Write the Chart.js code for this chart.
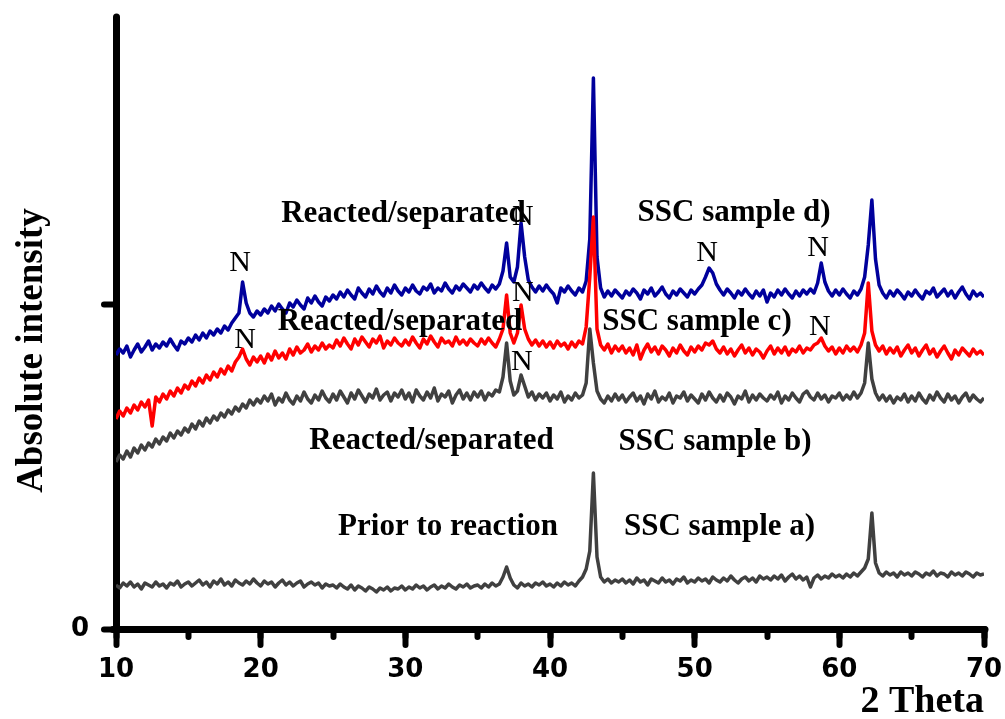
<!DOCTYPE html>
<html>
<head>
<meta charset="utf-8">
<title>XRD patterns of SSC samples</title>
<script src="https://cdn.jsdelivr.net/npm/chart.js@4.4.1/dist/chart.umd.min.js"></script>
<style>
  html, body { margin: 0; padding: 0; background: #fff; }
  #wrap { position: relative; width: 1005px; height: 719px; }
</style>
</head>
<body>
<div id="wrap"><canvas id="xrd"></canvas></div>
<script>
// Scan grid: 2-theta from 10 to 70 deg, one reading every 0.25 deg
const THETA_START = 10;
const THETA_STEP = 0.25;

// Intensities (a.u.), one row per 5 deg of 2-theta
const sampleA = [
  44, 41, 46, 43, 47, 42, 45, 40, 46, 44, 42, 47, 43, 45, 41, 46, 44, 48, 42, 45,
  47, 43, 46, 49, 44, 47, 42, 48, 45, 50, 44, 47, 43, 49, 46, 44, 48, 45, 50, 46,
  43, 48, 45, 47, 42, 46, 49, 44, 47, 43, 46, 48, 42, 45, 47, 44, 46, 41, 45, 43,
  44, 41, 45, 42, 40, 44, 39, 43, 41, 38, 42, 40, 37, 41, 39, 42, 38, 41, 40, 43,
  39, 42, 40, 44, 41, 43, 39, 42, 44, 40, 43, 41, 45, 42, 40, 44, 42, 45, 41, 43,
  44, 41, 45, 42, 46, 43, 45, 52, 62, 51, 44, 41, 46, 43, 45, 42, 46, 44, 47, 43,
  45, 42, 46, 43, 47, 44, 46, 43, 48, 52, 60, 78, 156, 72, 52, 47, 50, 46, 49, 47,
  50, 46, 49, 45, 51, 47, 49, 44, 50, 48, 46, 51, 47, 49, 45, 50, 48, 52, 46, 49,
  47, 51, 48, 50, 46, 52, 49, 47, 51, 48, 53, 49, 46, 50, 52, 48, 51, 47, 53, 50,
  52, 49, 53, 50, 54, 48, 52, 55, 50, 53, 49, 52, 42, 51, 54, 50, 53, 51, 55, 52,
  54, 51, 55, 52, 56, 53, 57, 61, 70, 116, 66, 56, 53, 57, 54, 56, 52, 57, 54, 56,
  53, 57, 55, 52, 56, 54, 58, 53, 56, 55, 52, 57, 54, 56, 53, 57, 55, 52, 56, 54,
  55
];

const sampleB = [
  167, 174, 170, 178, 172, 181, 176, 184, 179, 186, 182, 190, 185, 192, 188, 196, 191, 198, 194, 201,
  197, 205, 200, 208, 203, 211, 206, 213, 209, 216, 212, 219, 215, 222, 218, 225, 221, 229, 224, 230,
  226, 233, 228, 235, 224, 231, 227, 236, 229, 225, 233, 228, 237, 230, 226, 234, 229, 238, 231, 227,
  235, 229, 238, 232, 226, 236, 230, 239, 233, 227, 235, 231, 240, 229, 234, 237, 228, 236, 232, 239,
  230, 236, 227, 239, 233, 229, 237, 231, 241, 228, 235, 232, 238, 226, 234, 239, 230, 236, 229, 237,
  232, 238, 229, 236, 233, 239, 237, 252, 286, 248, 234, 238, 254, 243, 232, 237, 229, 235, 231, 236,
  228, 234, 230, 237, 227, 233, 229, 236, 231, 234, 246, 300, 266, 238, 230, 226, 233, 228, 235, 229,
  234, 227, 232, 236, 228, 233, 225, 235, 230, 238, 227, 232, 229, 236, 226, 233, 231, 237, 228, 234,
  230, 226, 235, 229, 237, 231, 227, 234, 228, 236, 232, 225, 233, 230, 238, 227, 234, 229, 235, 231,
  228, 234, 230, 237, 226, 233, 229, 236, 231, 227, 235, 238, 232, 229, 236, 230, 234, 227, 233, 231,
  236, 229, 234, 230, 237, 231, 236, 246, 286, 250, 236, 229, 234, 228, 233, 226, 232, 229, 235, 227,
  233, 228, 236, 230, 226, 234, 229, 237, 231, 227, 235, 229, 233, 226, 232, 236, 228, 234, 230, 227,
  231
];

const sampleC = [
  210, 218, 213, 221, 216, 224, 219, 227, 222, 229, 203, 232, 227, 235, 230, 238, 233, 241, 236, 244,
  240, 248, 243, 251, 246, 254, 249, 257, 252, 260, 255, 263, 258, 267, 272, 280, 270, 264, 272, 267,
  273, 266, 275, 269, 278, 271, 276, 270, 280, 274, 282, 276, 279, 285, 277, 283, 279, 286, 280, 284,
  281, 289, 283, 291, 285, 280, 290, 284, 292, 287, 282, 290, 286, 293, 281, 288, 284, 291, 286, 283,
  289, 284, 292, 286, 281, 290, 285, 293, 287, 282, 291, 286, 288, 283, 292, 285, 289, 284, 290, 286,
  283, 290, 285, 291, 286, 282, 290, 300, 334, 296, 286, 296, 324, 300, 290, 284, 289, 283, 288, 282,
  287, 281, 288, 283, 286, 280, 287, 282, 288, 285, 302, 352, 412, 300, 284, 279, 285, 276, 283, 278,
  283, 276, 281, 274, 284, 270, 279, 285, 277, 282, 275, 283, 279, 273, 281, 276, 284, 278, 274, 282,
  277, 283, 279, 286, 284, 288, 280, 276, 282, 275, 280, 273, 279, 284, 276, 281, 274, 280, 277, 271,
  278, 283, 275, 281, 276, 282, 274, 280, 277, 283, 276, 281, 279, 284, 286, 291, 283, 278, 282, 275,
  281, 276, 283, 278, 282, 277, 284, 296, 346, 298, 284, 278, 283, 275, 281, 276, 282, 273, 279, 284,
  276, 281, 273, 279, 284, 275, 280, 272, 278, 283, 276, 270, 279, 274, 281, 277, 273, 280, 275, 278,
  274
];

const sampleD = [
  274, 280, 276, 283, 272, 279, 285, 277, 282, 288, 279, 285, 281, 287, 283, 290, 284, 279, 288, 285,
  291, 287, 294, 289, 296, 291, 298, 294, 300, 296, 303, 299, 306, 311, 316, 347, 326, 316, 312, 318,
  314, 320, 316, 323, 318, 325, 320, 316, 326, 322, 329, 324, 320, 331, 326, 333, 327, 323, 332, 328,
  334, 330, 337, 332, 339, 334, 330, 341, 336, 332, 340, 335, 343, 337, 333, 341, 336, 344, 338, 334,
  341, 337, 344, 338, 335, 342, 339, 345, 336, 341, 338, 346, 340, 336, 343, 339, 345, 341, 337, 344,
  340, 346, 341, 337, 344, 340, 345, 358, 386, 352, 347, 362, 406, 372, 349, 342, 337, 343, 338, 344,
  339, 335, 326, 341, 337, 343, 338, 334, 341, 337, 348, 390, 551, 372, 341, 332, 338, 333, 339, 335,
  331, 338, 334, 340, 336, 330, 339, 335, 341, 333, 337, 342, 335, 331, 338, 334, 340, 336, 332, 339,
  335, 340, 344, 352, 361, 356, 345, 339, 334, 340, 336, 331, 338, 334, 340, 335, 331, 338, 333, 339,
  327, 336, 332, 339, 334, 340, 335, 331, 338, 333, 339, 335, 340, 336, 346, 366, 347, 338, 333, 339,
  334, 340, 335, 331, 338, 334, 340, 352, 384, 429, 370, 344, 336, 331, 338, 333, 339, 335, 330, 337,
  333, 339, 334, 330, 338, 335, 341, 332, 336, 340, 333, 338, 331, 337, 342, 335, 330, 338, 333, 336,
  332
];

const seriesNames = ['SSC sample a)', 'SSC sample b)', 'SSC sample c)', 'SSC sample d)'];
const seriesColors = ['#404040', '#404040', '#ff0000', '#00009c'];

const X_MIN = 10;
const X_MAX = 70;
const Y_MAX = 609;
const yTickValues = [0, 325];

// Sample captions and reflection markers, placed in (2-theta, intensity)
const captions = [
  { text: 'Reacted/separated', x: 29.87, y: 415 },
  { text: 'SSC sample d)', x: 52.72, y: 416 },
  { text: 'Reacted/separated', x: 29.63, y: 307 },
  { text: 'SSC sample c)', x: 50.16, y: 307 },
  { text: 'Reacted/separated', x: 31.81, y: 188 },
  { text: 'SSC sample b)', x: 51.41, y: 187 },
  { text: 'Prior to reaction', x: 32.95, y: 102 },
  { text: 'SSC sample a)', x: 51.72, y: 102 }
];
const peakMarks = [
  { x: 18.57, y: 366 }, { x: 18.92, y: 289 },
  { x: 38.13, y: 412 }, { x: 38.13, y: 336 }, { x: 38.06, y: 267 },
  { x: 50.85, y: 376 }, { x: 58.53, y: 381 }, { x: 58.66, y: 302 }
];

const SERIF = "'Liberation Serif', 'Times New Roman', serif";
const SANS = "'DejaVu Sans', Verdana, sans-serif";

function toPoints(values) {
  return values.map((v, i) => ({ x: THETA_START + i * THETA_STEP, y: v }));
}

const patterns = [sampleA, sampleB, sampleC, sampleD].map((values, i) => ({
  label: seriesNames[i],
  data: toPoints(values),
  borderColor: seriesColors[i],
  borderWidth: 3.5,
  borderJoinStyle: 'round',
  pointRadius: 0,
  tension: 0
}));

// Round line ends on axis lines and tick marks, captions drawn above the traces
const annotationLayer = {
  id: 'annotationLayer',
  beforeDraw(chart) {
    chart.ctx.lineCap = 'round';
  },
  afterDatasetsDraw(chart) {
    const { ctx, chartArea, scales: { x, y } } = chart;
    ctx.save();
    ctx.fillStyle = '#000';
    ctx.textAlign = 'center';
    ctx.textBaseline = 'middle';

    ctx.font = 'bold 31px ' + SERIF;
    captions.forEach(c => {
      ctx.fillText(c.text, x.getPixelForValue(c.x), y.getPixelForValue(c.y));
    });

    ctx.font = '30px ' + SERIF;
    peakMarks.forEach(p => {
      ctx.fillText('N', x.getPixelForValue(p.x), y.getPixelForValue(p.y));
    });

    // vertical axis title
    ctx.translate(chartArea.left - 84, (chartArea.top + chartArea.bottom) / 2 + 26);
    ctx.rotate(-Math.PI / 2);
    ctx.font = 'bold 37px ' + SERIF;
    ctx.fillText('Absolute intensity', 0, 0);
    ctx.restore();
  }
};

const tickFont = { family: SANS, size: 26, weight: 'bold' };

new Chart(document.getElementById('xrd'), {
  type: 'line',
  data: { datasets: patterns },
  plugins: [annotationLayer],
  options: {
    responsive: true,
    maintainAspectRatio: false,
    animation: false,
    layout: { padding: { top: 20, right: 21, bottom: 0, left: 0 } },
    plugins: {
      legend: { display: false },
      tooltip: { enabled: false }
    },
    scales: {
      x: {
        type: 'linear',
        position: 'bottom',
        min: X_MIN,
        max: X_MAX,
        afterFit: s => { s.height = 90; s.paddingLeft = 0; s.paddingRight = 0; },
        ticks: { stepSize: 10, font: tickFont, color: '#000', padding: 10, maxRotation: 0 },
        grid: { drawOnChartArea: false, tickLength: 16, tickWidth: 6, tickColor: '#000' },
        border: { width: 7, color: '#000' },
        title: {
          display: true,
          text: '2 Theta',
          align: 'end',
          color: '#000',
          padding: 0,
          font: { family: SERIF, size: 38, weight: 'bold', lineHeight: 0.9 }
        }
      },
      // short marks at every 5 deg along the baseline
      xMinor: {
        type: 'linear',
        axis: 'x',
        position: { y: 0 },
        min: X_MIN,
        max: X_MAX,
        afterFit: s => { s.paddingLeft = 0; s.paddingRight = 0; },
        ticks: { stepSize: 5, display: false },
        grid: { drawOnChartArea: false, tickLength: 8, tickWidth: 6, tickColor: '#000' },
        border: { display: false }
      },
      y: {
        type: 'linear',
        position: 'left',
        min: 0,
        max: Y_MAX,
        afterBuildTicks: s => { s.ticks = yTickValues.map(v => ({ value: v })); },
        afterFit: s => { s.width = 116; s.paddingTop = 0; s.paddingBottom = 0; },
        ticks: {
          callback: v => (v === 0 ? '0' : ''),
          font: tickFont,
          color: '#000',
          padding: 15
        },
        grid: { drawOnChartArea: false, tickLength: 12, tickWidth: 6, tickColor: '#000' },
        border: { width: 7, color: '#000' }
      }
    }
  }
});
</script>
</body>
</html>
